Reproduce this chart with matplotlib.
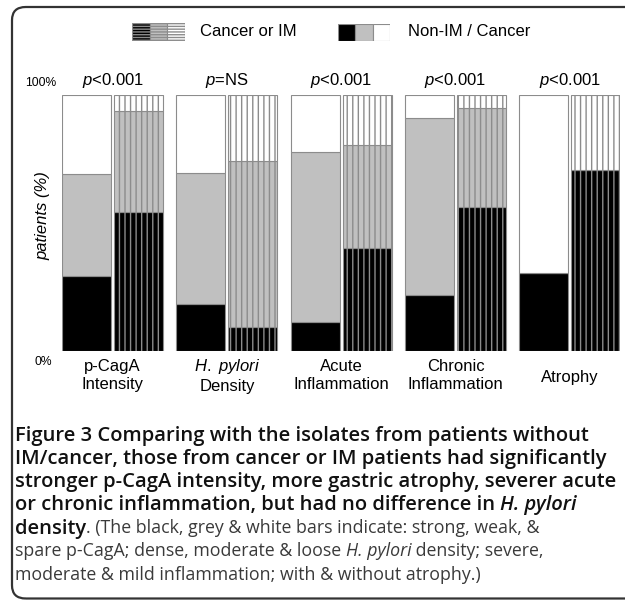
import numpy as np
import matplotlib
matplotlib.use("Agg")
import matplotlib.pyplot as plt
from matplotlib.patches import FancyBboxPatch

plt.rcParams['font.family'] = ['Liberation Sans', 'DejaVu Sans']
plt.rcParams['mathtext.fontset'] = 'custom'
plt.rcParams['mathtext.rm'] = 'Liberation Sans'
plt.rcParams['mathtext.it'] = 'Liberation Sans:italic'
plt.rcParams['hatch.linewidth'] = 1.0

# data (percent of patients)
categories = ['p-CagA\nIntensity', '$\\it{H.\\ pylori}$\nDensity', 'Acute\nInflammation',
              'Chronic\nInflammation', 'Atrophy']
p_values = ['$p$<0.001', '$p$=NS', '$p$<0.001', '$p$<0.001', '$p$<0.001']
nonim_black = [29.3, 18.4, 11.5, 21.9, 30.3]
nonim_grey = [39.7, 51.0, 66.4, 69.0, 0.0]
cancer_black = [54.3, 9.5, 40.2, 56.4, 70.7]
cancer_grey = [39.4, 64.7, 40.4, 38.4, 0.0]

nonim_white = 100 - np.array(nonim_black) - np.array(nonim_grey)
cancer_white = 100 - np.array(cancer_black) - np.array(cancer_grey)

W, H = 625, 600
fig = plt.figure(figsize=(W / 100, H / 100), dpi=100)

def px(x0, y0, x1, y1):
    # pixel box (top-left origin) -> figure fraction rect
    return [x0 / W, 1 - y1 / H, (x1 - x0) / W, (y1 - y0) / H]

# outer rounded frame
frame = FancyBboxPatch((12 / W, 1 - 598.5 / H), 1.1, (598.5 - 7) / H,
                       boxstyle="round,pad=0,rounding_size=0.022",
                       transform=fig.transFigure, fill=False,
                       edgecolor='#333333', linewidth=1.6)
fig.patches.append(frame)

grey = '#c0c0c0'
edge = '#8c8c8c'
bw = 0.43
x = np.arange(len(categories), dtype=float)
xh = x + 0.455

ax = fig.add_axes(px(62, 95, 620.4, 351))
ax.bar(x, nonim_black, bw, align='edge', color='black', edgecolor=edge, linewidth=0.8)
ax.bar(x, nonim_grey, bw, bottom=nonim_black, align='edge', color=grey,
       edgecolor=edge, linewidth=0.8)
ax.bar(x, nonim_white, bw, bottom=np.add(nonim_black, nonim_grey), align='edge',
       color='white', edgecolor=edge, linewidth=0.8)

ax.bar(xh, cancer_black, bw, align='edge', color='black', edgecolor=edge,
       hatch='|||', linewidth=0.8)
ax.bar(xh, cancer_grey, bw, bottom=cancer_black, align='edge', color=grey,
       edgecolor=edge, hatch='|||', linewidth=0.8)
ax.bar(xh, cancer_white, bw, bottom=np.add(cancer_black, cancer_grey), align='edge',
       color='white', edgecolor=edge, hatch='|||', linewidth=0.8)

ax.set_xlim(0, x[-1] + 0.885)
ax.set_ylim(0, 100)
ax.axis('off')

centers = x + 0.4425
for c, pv in zip(centers, p_values):
    ax.text(c, 105.5, pv, ha='center', va='center', fontsize=12)
for c, lab in zip(centers, categories):
    yy = -9.5 if '\n' in lab else -10.5
    ax.text(c, yy, lab, ha='center', va='center', fontsize=12, linespacing=1.2)

fig.text(41 / W, 1 - 83 / H, '100%', ha='center', va='center', fontsize=8.7)
fig.text(43 / W, 1 - 362 / H, '0%', ha='center', va='center', fontsize=8.7)
fig.text(43 / W, 1 - 216 / H, 'patients (%)', ha='center', va='center',
         rotation=90, fontsize=12, style='italic')

# legend swatches
leg_colors = ['black', grey, 'white']
lax1 = fig.add_axes(px(132, 23, 185, 41))
lax1.bar(range(3), [1, 1, 1], 1.0, align='edge', color=leg_colors,
         edgecolor=edge, hatch='------', linewidth=0.8)
lax1.set_xlim(0, 3)
lax1.set_ylim(0, 1)
lax1.axis('off')
fig.text(200 / W, 1 - 31 / H, 'Cancer or IM', ha='left', va='center', fontsize=12)

lax2 = fig.add_axes(px(338, 24, 390, 41))
lax2.bar(range(3), [1, 1, 1], 1.0, align='edge', color=leg_colors,
         edgecolor=edge, linewidth=0.8)
lax2.set_xlim(0, 3)
lax2.set_ylim(0, 1)
lax2.axis('off')
fig.text(408 / W, 1 - 31 / H, 'Non-IM / Cancer', ha='left', va='center', fontsize=12)

# caption, with mixed weights and styles
cap_font = 'Open Sans'
BW, RW = 'semibold', 'normal'
B, BI, R, RI = (BW, 'normal'), (BW, 'italic'), (RW, 'normal'), (RW, 'italic')
caption = [
    [('Figure 3 Comparing with the isolates from patients without', B)],
    [('IM/cancer, those from cancer or IM patients had significantly', B)],
    [('stronger p-CagA intensity, more gastric atrophy, severer acute', B)],
    [('or chronic inflammation, but had no difference in ', B), ('H. pylori', BI)],
    [('density', B), ('. (The black, grey & white bars indicate: strong, weak, &', R)],
    [('spare p-CagA; dense, moderate & loose ', R), ('H. pylori', RI),
     (' density; severe,', R)],
    [('moderate & mild inflammation; with & without atrophy.)', R)],
]
renderer = fig.canvas.get_renderer()

def run_width(runs, sizes, weight=None):
    w = 0
    for txt, (wt, st) in runs:
        if weight is not None and wt != weight:
            continue
        t = fig.text(0, 0, txt, fontsize=sizes[wt], family=cap_font, weight=wt, style=st)
        w += t.get_window_extent(renderer).width
        t.remove()
    return w

# fit the bold and regular sizes to the line widths seen in the figure
sizes = {BW: 12.0, RW: 12.0}
bold_w = sum(run_width(caption[k], sizes) for k in range(3))
reg_w = sum(run_width(caption[k], sizes, RW) for k in range(4, 7))
sizes[BW] *= 1765 / bold_w
sizes[RW] *= 1440 / reg_w

y0, dy = 433, 23.3
for i, line in enumerate(caption):
    xpos = 15
    for txt, (wt, st) in line:
        t = fig.text(xpos / W, 1 - (y0 + i * dy) / H, txt, ha='left', va='center_baseline',
                     fontsize=sizes[wt], family=cap_font, weight=wt, style=st,
                     color='#111111' if wt == BW else '#3a3a3a')
        xpos += t.get_window_extent(renderer).width

fig.savefig('out.png', dpi=100)
